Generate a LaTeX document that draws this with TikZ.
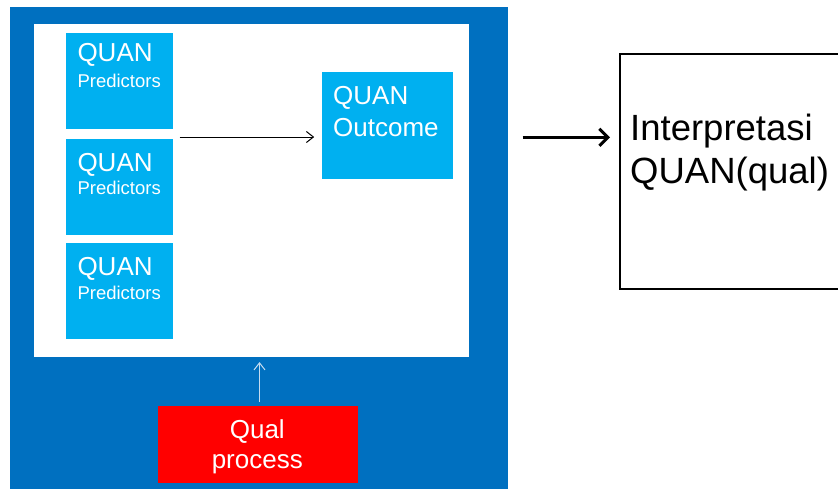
\documentclass[tikz,border=0pt]{standalone}
\usepackage{fontspec}
\setmainfont{Liberation Sans}
\usetikzlibrary{arrows.meta}
\definecolor{deepblue}{HTML}{0070C0}
\definecolor{skyblue}{HTML}{00B0F0}
\definecolor{qualred}{HTML}{FF0000}
\definecolor{paleline}{HTML}{C5DCF0}
\tikzset{
  panel/.style={draw=none, fill=#1, inner sep=0pt, anchor=north west},
  predbox/.style={panel=skyblue, minimum width=107pt, minimum height=96.5pt},
  bigtxt/.style={text=white, inner sep=0pt, font=\fontsize{26}{30}\selectfont},
  smalltxt/.style={text=white, inner sep=0pt, font=\fontsize{18.5}{22}\selectfont},
  interptxt/.style={text=black, inner sep=0pt, anchor=base west, font=\fontsize{36.5}{43}\selectfont},
  thinarrow/.style={draw=black, line width=0.9pt, -{Straight Barb[length=7pt,width=11pt,line width=1pt]}},
  palearrow/.style={draw=paleline, line width=1pt, -{Straight Barb[length=7pt,width=11pt,line width=1pt]}},
  thickarrow/.style={draw=black, line width=3pt, -{Straight Barb[length=8.5pt,width=17pt,line width=3pt]}}
}
\begin{document}
\begin{tikzpicture}[x=1pt,y=-1pt]
\useasboundingbox (0,0) rectangle (838,488);
\clip (0,0) rectangle (838,488);
\fill[white] (0,0) rectangle (838,488);

% outer blue frame and the white study area
\node[panel=deepblue, minimum width=498pt, minimum height=490pt] (outer) at (10,6.7) {};
\node[panel=white, minimum width=435.7pt, minimum height=332.7pt] (study) at (33.3,24) {};

% three predictor boxes
\node[predbox] (p1) at (65.7,32.3) {};
\node[predbox] (p2) at (65.7,138.3) {};
\node[predbox] (p3) at (65.7,242.5) {};
\node[bigtxt, anchor=base west] (p1a) at (77.3,61.7) {QUAN};
\node[smalltxt, anchor=base west] (p1b) at (77.3,87.7) {Predictors};
\node[bigtxt, anchor=base west] (p2a) at (77.3,171) {QUAN};
\node[smalltxt, anchor=base west] (p2b) at (77.3,194) {Predictors};
\node[bigtxt, anchor=base west] (p3a) at (77.3,275) {QUAN};
\node[smalltxt, anchor=base west] (p3b) at (77.3,299) {Predictors};

% outcome box
\node[panel=skyblue, minimum width=131pt, minimum height=106.3pt] (out) at (321.7,72) {};
\node[bigtxt, anchor=base west] (outa) at (333,104.3) {QUAN};
\node[bigtxt, anchor=base west] (outb) at (333,136.7) {Outcome};

% qualitative process box
\node[panel=qualred, minimum width=200pt, minimum height=77pt] (qual) at (157.3,405.7) {};
\node[bigtxt, anchor=base] (quala) at (257.3,438.7) {Qual};
\node[bigtxt, anchor=base] (qualb) at (257.3,468) {process};

% interpretation box
\node[draw=black, line width=2pt, fill=white, inner sep=0pt, anchor=north west,
      minimum width=230pt, minimum height=235pt] (interp) at (619,53.3) {};
\node[interptxt] (inta) at (630,140) {Interpretasi};
\node[interptxt] (intb) at (630,183.3) {QUAN(qual)};

% connectors
\draw[thinarrow] ([xshift=6.5pt,yshift=1.3pt]p2.north east)
  -- ([xshift=-7.5pt,yshift=1.3pt]out.west |- p2.north east);
\draw[palearrow] ([xshift=2pt,yshift=4pt]qual.north)
  -- ([xshift=2pt,yshift=-5pt]qual.north |- study.south);
\coordinate (bigstart) at (522.7,137.3);
\draw[thickarrow] (bigstart) -- ([xshift=-9pt]interp.west |- bigstart);
\end{tikzpicture}
\end{document}
